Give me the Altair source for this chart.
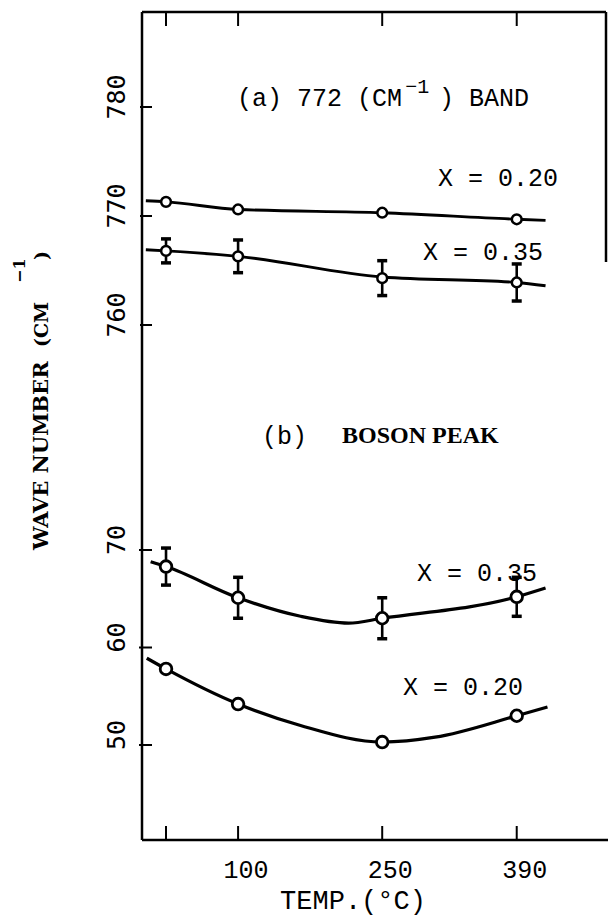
import altair as alt
import pandas as pd

# ---- measured data -------------------------------------------------------
temps = [25, 100, 250, 390]                      # annealing temperature (deg C)

# (a) 772 cm-1 band position
band_x020 = [771.3, 770.6, 770.3, 769.7]
band_x035 = [766.8, 766.3, 764.3, 763.9]
band_x035_err = [1.1, 1.5, 1.6, 1.7]

# (b) boson peak position
boson_x035 = [68.3, 65.1, 63.0, 65.2]
boson_x035_err = [1.9, 2.1, 2.1, 2.0]
boson_x020 = [57.8, 54.2, 50.3, 53.0]

# hand-drawn guide curves (knots)
fit_band_x020_t = [4, 25, 100, 250, 390, 420]
fit_band_x020_v = [771.4, 771.3, 770.6, 770.3, 769.7, 769.6]
fit_band_x035_t = [4, 25, 100, 250, 390, 420]
fit_band_x035_v = [766.9, 766.8, 766.3, 764.4, 763.9, 763.6]
fit_boson_x035_t = [9, 25, 100, 165, 215, 250, 390, 420]
fit_boson_x035_v = [68.8, 68.3, 65.1, 63.2, 62.5, 63.0, 65.2, 66.1]
fit_boson_x020_t = [5, 25, 100, 165, 250, 305, 390, 422]
fit_boson_x020_v = [58.9, 57.8, 54.2, 52.0, 50.3, 50.8, 53.0, 53.9]

# axis ticks
x_ticks = [25, 100, 250, 390]
x_tick_labels = ["100", "250", "390"]
x_tick_label_vals = [100, 250, 390]
top_y_ticks = [760, 770, 780]
bot_y_ticks = [50, 60, 70]

W, H = 466, 828
MONO = "Liberation Mono"
SANSMONO = "DejaVu Sans Mono"
SERIF = "Liberation Serif"
WIDESERIF = "DejaVu Serif"

xs = alt.Scale(domain=[0, 485], nice=False, zero=False)
ys_top = alt.Scale(domain=[760, 780], range=[313, 95], nice=False, zero=False)
ys_bot = alt.Scale(domain=[50, 70], range=[733, 538], nice=False, zero=False)

X = alt.X("temp:Q", scale=xs, axis=None)


def Ytop(field="val"):
    return alt.Y(f"{field}:Q", scale=ys_top, axis=None)


def Ybot(field="val"):
    return alt.Y(f"{field}:Q", scale=ys_bot, axis=None)


one = pd.DataFrame({"k": [0]})
layers = []

# ---- frame ----------------------------------------------------------------
frame = alt.Chart(one).mark_rule(color="black", strokeWidth=2.5)
layers += [
    frame.encode(x=alt.value(0), y=alt.value(0), y2=alt.value(H)),
    frame.encode(x=alt.value(0), x2=alt.value(464), y=alt.value(0)),
    frame.encode(x=alt.value(0), x2=alt.value(W), y=alt.value(H)),
    frame.encode(x=alt.value(464), y=alt.value(0), y2=alt.value(250)),
]

# inward ticks
xt = pd.DataFrame({"temp": x_ticks})
tick = alt.Chart(xt).mark_rule(color="black", strokeWidth=2)
layers += [
    tick.encode(x=X, y=alt.value(0), y2=alt.value(14)),
    tick.encode(x=X, y=alt.value(H - 14), y2=alt.value(H)),
]
ytt = pd.DataFrame({"val": top_y_ticks})
ytb = pd.DataFrame({"val": bot_y_ticks})
layers += [
    alt.Chart(ytt).mark_rule(color="black", strokeWidth=2).encode(
        x=alt.value(-2), x2=alt.value(10), y=Ytop()),
    alt.Chart(ytb).mark_rule(color="black", strokeWidth=2).encode(
        x=alt.value(-3), x2=alt.value(10), y=Ybot()),
]

# tick labels
ylab = dict(font=SANSMONO, fontSize=25, angle=270, align="center",
            baseline="middle", color="black", dx=10)
layers += [
    alt.Chart(ytt).mark_text(**ylab).encode(
        x=alt.value(-25), y=Ytop(), text=alt.Text("val:Q", format="d")),
    alt.Chart(ytb).mark_text(**ylab).encode(
        x=alt.value(-25), y=Ybot(), text=alt.Text("val:Q", format="d")),
]
xl = pd.DataFrame({"temp": x_tick_label_vals, "lab": x_tick_labels})
layers.append(
    alt.Chart(xl).mark_text(font=MONO, fontSize=25, align="center",
                            baseline="middle", color="black", dx=8).encode(
        x=X, y=alt.value(858), text="lab:N"))

# ---- guide curves ---------------------------------------------------------
def curve(t, v, name):
    return pd.DataFrame({"temp": t, "val": v, "series": name})

fit_top = pd.concat([curve(fit_band_x020_t, fit_band_x020_v, "x020"),
                     curve(fit_band_x035_t, fit_band_x035_v, "x035")])
fit_bot = pd.concat([curve(fit_boson_x035_t, fit_boson_x035_v, "x035"),
                     curve(fit_boson_x020_t, fit_boson_x020_v, "x020")])
layers += [
    alt.Chart(fit_top).mark_line(color="black", strokeWidth=2.9,
                                 interpolate="monotone").encode(
        x=X, y=Ytop(), detail="series:N"),
    alt.Chart(fit_bot).mark_line(color="black", strokeWidth=3.2,
                                 interpolate="monotone").encode(
        x=X, y=Ybot(), detail="series:N"),
]

# ---- error bars -----------------------------------------------------------
err_top = pd.DataFrame({"temp": temps, "val": band_x035, "err": band_x035_err})
err_top["lo"] = err_top["val"] - err_top["err"]
err_top["hi"] = err_top["val"] + err_top["err"]
err_bot = pd.DataFrame({"temp": temps, "val": boson_x035, "err": boson_x035_err})
err_bot["lo"] = err_bot["val"] - err_bot["err"]
err_bot["hi"] = err_bot["val"] + err_bot["err"]

for df, Yf in ((err_top, Ytop), (err_bot, Ybot)):
    base = alt.Chart(df)
    cap = dict(color="black", orient="horizontal", size=10, thickness=3.5,
               opacity=1)
    layers += [
        base.mark_rule(color="black", strokeWidth=2.6).encode(
            x=X, y=Yf("lo"), y2="hi:Q"),
        base.mark_tick(**cap).encode(x=X, y=Yf("lo")),
        base.mark_tick(**cap).encode(x=X, y=Yf("hi")),
    ]

# ---- data points ----------------------------------------------------------
pts_top = pd.DataFrame({"temp": temps * 2, "val": band_x020 + band_x035})
pts_bot = pd.DataFrame({"temp": temps * 2, "val": boson_x035 + boson_x020})
layers += [
    alt.Chart(pts_top).mark_circle(color="white", stroke="black",
                                   strokeWidth=2.5, opacity=1, size=95).encode(
        x=X, y=Ytop()),
    alt.Chart(pts_bot).mark_circle(color="white", stroke="black",
                                   strokeWidth=2.8, opacity=1, size=135).encode(
        x=X, y=Ybot()),
]

# ---- annotations ----------------------------------------------------------
ann = dict(font=MONO, fontSize=25, align="left", baseline="middle", color="black")
notes_top = pd.DataFrame({
    "text": ["(a) 772 (CM", ") BAND", "X = 0.20", "X = 0.35"],
    "temp": [98.9, 309.0, 308.0, 292.5],
    "val": [780.83, 780.83, 773.5, 766.7],
})
sup_top = pd.DataFrame({"text": ["\u22121"], "temp": [274.0], "val": [781.8]})
notes_bot = pd.DataFrame({
    "text": ["(b)", "X = 0.35", "X = 0.20"],
    "temp": [124.9, 286.2, 271.6],
    "val": [81.7, 67.64, 55.9],
})
title_bot = pd.DataFrame({"text": ["BOSON PEAK"], "temp": [208.2], "val": [81.7]})
layers += [
    alt.Chart(notes_top).mark_text(**ann).encode(x=X, y=Ytop(), text="text:N"),
    alt.Chart(sup_top).mark_text(font=MONO, fontSize=20, align="left",
                                 baseline="middle", color="black").encode(
        x=X, y=Ytop(), text="text:N"),
    alt.Chart(notes_bot).mark_text(**ann).encode(x=X, y=Ybot(), text="text:N"),
    alt.Chart(title_bot).mark_text(font=SERIF, fontSize=24, fontWeight="bold",
                                   align="left", baseline="middle",
                                   color="black").encode(
        x=X, y=Ybot(), text="text:N"),
]

# ---- axis titles ----------------------------------------------------------
layers.append(
    alt.Chart(one).mark_text(font=MONO, fontSize=27, align="center",
                             baseline="alphabetic", color="black",
                             text="TEMP.(\u00b0C)").encode(
        x=alt.value(211), y=alt.value(897)))

ytitle = dict(font=WIDESERIF, fontWeight="bold", angle=270, align="left",
              baseline="middle", color="black")
layers += [
    alt.Chart(one).mark_text(fontSize=21, text="WAVE NUMBER", **ytitle).encode(
        x=alt.value(-100), y=alt.value(538)),
    alt.Chart(one).mark_text(fontSize=19, text="(CM", **ytitle).encode(
        x=alt.value(-100), y=alt.value(335)),
    alt.Chart(one).mark_text(fontSize=16, text="\u22121", **ytitle).encode(
        x=alt.value(-122), y=alt.value(271)),
    alt.Chart(one).mark_text(fontSize=19, text=")", **ytitle).encode(
        x=alt.value(-100), y=alt.value(248)),
]

chart = (
    alt.layer(*layers)
    .resolve_scale(y="independent")
    .properties(
        width=W,
        height=H,
        autosize=alt.AutoSizeParams(type="none"),
        padding={"left": 142, "top": 12, "right": 0, "bottom": 81},
        background="white",
    )
    .configure_view(stroke=None)
)

chart.save("out.html", embed_options={"renderer": "svg", "actions": False})
